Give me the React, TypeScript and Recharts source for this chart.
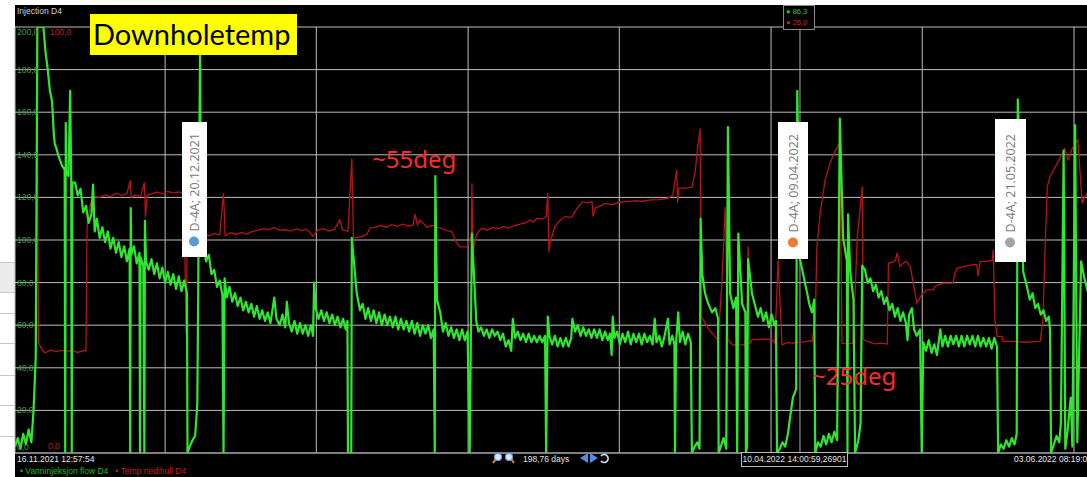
import React from "react";
import { ComposedChart, Line, XAxis, YAxis, CartesianGrid, ReferenceLine } from "recharts";

// ---- data (days since 16.11.2021 12:57:54) ----
const flowSeries: [number, number][] = [
  [0,3],[0.5,7],[1,2],[1.5,9],[2,4],[2.5,11],[3,5],[3.4,20],[3.8,45],[4.1,200],[4.6,200],[5.2,200],
  [5.6,188],[6.0,180],[6.4,170],[6.8,165],[7.1,150],[7.3,145],[7.6,143],[7.9,140],[8.3,137],[8.6,135],[9.1,133],[9.2,0],[9.3,155],[9.4,132],[9.8,130],[10.1,170],[10.3,128],[10.4,0],[10.5,127],
  [11.0,127],[11.5,121],[12.0,124],[12.5,113],[13.0,116],[13.5,108],[14.0,112],[14.3,126],[14.6,104],[15.0,110],[15.5,101],[16.0,106],[16.5,99],[17.0,104],[17.5,96],[18.0,101],[18.5,94],[19.0,99],[19.5,92],[20.0,97],[20.5,90],[21.0,96],[21.1,0],[21.2,115],[21.3,93],[21.8,97],[22.3,89],[22.8,94],[22.9,0],[23.0,92],[23.5,88],[23.7,0],[23.8,109],[24.0,90],[24.5,86],[25.0,91],[25.5,84],[26.0,89],[26.5,82],[27.0,87],[27.5,80],[28.0,85],[28.5,79],[29.0,84],[29.5,77],[30.0,83],[30.5,76],[31.0,81],[31.5,75],[31.6,0],
  [32.0,3],[32.5,6],[33.0,8],[33.4,23],[33.9,188],[34.1,101],[34.6,96],[35.0,90],[35.5,93],[36.0,84],[36.5,86],[37.0,78],[37.5,81],[38.0,74],[38.2,0],[38.4,82],[38.8,73],[39.3,78],[39.8,71],[40.3,75],[40.8,69],[41.3,73],[41.8,67],[42.3,71],[42.8,66],[43.3,70],[43.8,64],[44.3,69],[44.8,63],[45.3,67],[45.8,62],[46.3,66],[46.8,61],[47.5,73],[47.9,63],[48.5,60],[49.0,65],[49.5,59],[49.8,71],[50.2,61],[50.7,57],[51.2,62],[51.7,56],[52.2,61],[52.7,56],[53.2,60],[53.7,55],[54.2,60],[54.6,55],[54.8,80],[55.1,68],[55.6,63],[56.1,67],[56.6,62],[57.1,66],[57.6,61],[58.1,65],[58.6,60],[59.1,64],[59.6,59],[60.1,63],[60.6,58],[60.9,62],[61.0,0],[61.6,0],[61.7,101],
  [62.6,75],[63.2,67],[63.7,70],[64.2,63],[64.7,68],[65.2,62],[65.7,67],[66.2,61],[66.7,66],[67.2,60],[67.7,65],[68.2,60],[68.7,64],[69.2,59],[69.7,64],[70.2,58],[70.7,63],[71.2,58],[71.7,62],[72.2,57],[72.7,62],[73.2,56],[73.7,61],[74.2,55],[74.7,60],[75.2,56],[75.7,60],[76.2,54],[76.7,58],[76.9,0],[77.0,130],[77.3,72],[77.9,66],[78.4,57],[78.9,61],[79.4,55],[79.9,59],[80.4,54],[80.9,58],[81.4,53],[81.9,58],[82.4,53],[82.9,57],[83.3,0],[83.7,103],
  [84.5,62],[84.9,57],[85.4,59],[85.9,55],[86.4,58],[86.9,54],[87.4,58],[87.9,55],[88.4,57],[88.9,53],[89.4,56],[89.9,50],[90.4,53],[90.9,48],[91.2,63],[91.6,54],[92.1,57],[92.6,53],[93.1,56],[93.6,52],[94.1,56],[94.6,52],[95.1,55],[95.6,52],[96.1,55],[96.6,52],[97.1,55],[97.3,0],[97.6,64],[97.9,55],[98.4,51],[98.9,55],[99.4,50],[99.9,54],[100.4,50],[100.9,54],[101.4,50],[101.9,54],[102.1,63],[102.6,57],[103.1,60],[103.6,55],[104.1,59],[104.6,55],[105.1,58],[105.6,54],[106.1,58],[106.6,54],[107.1,58],[107.6,53],[108.1,57],[108.6,53],[109.0,56],[109.3,46],[109.5,64],[109.8,54],
  [110.3,57],[110.8,51],[111.3,56],[111.8,52],[112.3,57],[112.8,51],[113.3,56],[113.8,52],[114.3,56],[114.8,51],[115.3,56],[115.8,52],[116.3,55],[116.8,51],[117.2,63],[117.5,52],[118.0,55],[118.5,50],[119.0,55],[119.6,63],[119.9,51],[120.4,55],[120.8,51],[120.9,0],[121.1,52],[121.5,66],[121.8,52],[122.3,57],[122.8,51],[123.3,56],[123.8,52],[124.0,0],
  [124.5,3],[125.0,5],[125.4,2],[125.6,110],[125.9,84],[126.4,75],[127.0,70],[127.7,66],[128.3,68],[128.8,63],[128.9,0],[129.3,3],[129.8,7],[130.3,2],[130.6,153],[131.0,75],[131.6,68],[132.1,73],[132.3,0],[132.5,103],[133.2,70],[133.8,66],[133.9,0],[134.1,3],[134.3,91],[135.0,75],[135.5,70],[136.1,64],[136.6,68],[137.1,62],[137.6,66],[138.1,59],[138.6,65],[139.1,60],[139.4,62],[139.6,0],
  [140.1,2],[140.6,5],[141.1,3],[141.6,9],[142.0,17],[142.5,26],[143.1,30],[143.3,170],[143.8,91],[144.7,80],[145.2,74],[145.5,70],[146.0,66],[146.4,72],[146.6,0],[147.1,5],[147.6,3],[148.1,8],[148.6,4],[149.1,9],[149.6,5],[150.1,10],[150.6,6],[151.1,157],[151.7,101],[152.4,90],[152.5,0],[152.6,112],[153.0,85],[153.6,72],[153.9,0],[154.5,6],[154.9,14],
  [155.2,88],[155.7,86],[156.2,80],[156.7,82],[157.2,76],[157.7,79],[158.2,73],[158.7,76],[159.2,70],[159.7,73],[160.2,67],[160.7,70],[161.2,64],[161.7,68],[162.2,62],[162.7,66],[163.2,61],[163.5,53],[163.8,65],[164.3,68],[164.7,58],[165.2,55],[165.8,58],[166.1,0],[166.4,52],[166.9,48],[167.4,53],[167.9,47],[168.4,51],[168.9,46],[169.5,58],[169.9,50],
  [170.4,55],[170.9,50],[171.4,55],[171.9,51],[172.4,55],[172.9,50],[173.4,55],[173.9,50],[174.4,55],[174.9,51],[175.4,55],[175.9,50],[176.4,55],[176.9,50],[177.4,54],[177.9,50],[178.4,54],[178.9,49],[179.4,54],[179.9,50],[180.1,0],
  [180.6,4],[181.1,2],[181.6,6],[182.1,3],[182.6,7],[183.1,4],[183.5,9],[183.7,166],[184.7,85],[185.2,80],[185.9,72],[186.4,75],[186.9,68],[187.4,70],[187.9,65],[188.4,67],[188.9,62],[189.4,64],[189.6,58],[189.8,0],
  [190.3,4],[190.8,8],[191.3,5],[191.6,14],[192.1,142],[192.4,2],[192.8,10],[193.4,26],[193.7,3],[194.2,154],[194.6,5],[195.3,90],[195.9,82],[196.5,76],[197.3,72],[198.0,70],[198.7,68]
];

const tempSeries: [number, number][] = [
  [3.5,100],[4.0,100],[4.3,26],[4.8,24.5],[5.5,23.5],[6.5,24.2],[7.5,23.8],[8.5,24.1],[9.5,23.9],[10.5,24.0],[11.5,23.6],[12.5,24.0],[13.0,24.0],[13.2,53],[13.8,58.5],[14.5,60.2],[15.5,60.0],[16.5,60.6],[17.5,60.2],[18.5,61.0],[19.5,60.5],[20.5,60.8],[21.1,64.0],[21.3,60.0],[22.0,60.6],[23.0,60.3],[23.7,63.5],[23.9,55.4],[24.2,60.5],[25.0,60.8],[26.0,61.2],[27.0,60.9],[28.0,61.4],[29.0,61.0],[30.0,61.3],[31.0,60.8],[31.3,28.2],[31.6,52.5],
  [32.5,51.8],[33.5,51.2],[34.5,51.6],[35.5,51.0],[36.5,51.5],[37.5,51.2],[38.2,61.0],[38.5,51.0],[39.5,51.7],[40.5,51.3],[41.5,51.8],[42.5,51.4],[43.5,52.0],[44.5,52.3],[45.5,52.6],[46.5,52.5],[47.5,52.9],[48.5,52.3],[49.5,52.4],[50.5,52.1],[51.5,52.6],[52.5,52.2],[53.5,52.5],[54.6,50.9],[55.5,52.3],[56.5,52.6],[57.5,52.1],[58.5,52.5],[59.5,54.7],[60.0,52.4],[61.0,52.0],[61.7,69.2],[62.0,50.5],[63.2,50.7],[64.5,51.4],[65.0,52.8],
  [66.0,53.0],[67.0,53.4],[68.0,53.0],[69.0,53.6],[70.0,53.2],[71.0,53.7],[72.0,53.3],[72.9,53.5],[73.3,56.1],[73.7,53.6],[74.2,54.7],[75.5,53.0],[76.5,53.4],[77.3,53.0],[78.2,52.7],[79.1,52.2],[80.0,52.0],[80.8,49.5],[81.5,48.4],[82.8,48.4],[83.6,51.0],[83.7,63.3],[83.9,47.6],[84.6,51.5],[85.5,52.8],[86.5,52.3],[87.5,52.9],[88.5,52.6],[89.5,53.2],[90.5,52.8],[91.5,53.4],[92.5,53.7],[93.5,54.0],[94.3,54.7],[95.0,54.2],[95.6,55.1],[96.5,54.9],[97.3,55.5],[97.6,61.0],[97.8,47.1],
  [98.0,49.3],[98.9,53.2],[99.8,54.5],[100.8,55.5],[102.0,55.3],[102.6,56.7],[103.2,57.8],[103.9,59.0],[104.8,58.7],[105.7,59.0],[105.9,55.5],[106.3,57.5],[107.2,58.0],[108.1,58.6],[109.3,58.3],[110.5,58.8],[112.0,59.0],[113.5,59.2],[115.0,59.1],[116.5,59.4],[118.0,59.5],[119.6,59.8],[120.5,60.5],[121.2,66.5],[121.4,58.8],[121.6,62.2],[123.0,62.2],[124.0,62.4],[124.6,66.0],[125.0,71.0],[125.5,76.2],[125.7,32.0],[126.0,31.5],[127.0,29.2],[128.0,27.6],[128.8,26.6],[129.5,40.0],[130.1,57.8],[130.6,26.6],[131.4,25.4],[132.5,25.4],[133.7,25.4],[134.1,30.0],[134.3,48.5],[134.6,25.6],[135.0,26.6],[136.1,26.6],[137.4,26.8],[138.7,26.6],[139.2,25.8],[139.8,45.3],[140.5,25.4],[141.5,25.9],[142.5,25.8],[143.5,26.0],[144.5,26.1],[145.5,26.3],[146.0,26.2],
  [146.6,31.3],[146.9,48.5],[147.5,56.3],[148.4,64.1],[149.3,68.0],[150.2,70.8],[151.1,72.7],[151.5,25.8],[152.5,25.6],[153.5,25.8],[153.9,38.0],[154.3,50.8],[155.2,62.5],[155.4,26.6],[156.5,26.0],[157.5,25.6],[158.5,25.8],[159.8,25.6],[160.0,44.6],[160.8,44.8],[161.3,45.3],[161.6,47.0],[162.1,43.8],[162.7,44.6],[163.3,45.0],[164.0,43.8],[164.6,39.5],[165.2,35.2],[166.3,37.5],[167.0,38.3],[168.2,38.3],[168.5,39.1],[170.0,39.9],[171.8,39.9],[172.2,42.2],[172.6,43.4],[174.0,43.8],[175.5,44.2],[176.2,44.2],[176.4,41.5],[176.8,45.0],[178.0,45.0],[179.0,45.2],[179.2,47.7],[179.5,31.3],[179.9,27.4],[180.8,27.4],[181.0,26.2],[183.0,26.2],[185.0,26.0],[187.8,26.2],[188.3,31.3],[188.7,48.0],[189.1,62.5],[189.6,64.9],[190.9,68.0],[192.3,71.5],[192.9,68.8],[193.8,71.9],[194.7,73.5],[195.5,58.6],[196.0,60.2],[197.0,62.0],[198.0,63.5],[198.7,64.0]
];

const flowTicks = [0, 20, 40, 60, 80, 100, 120, 140, 160, 180, 200];
const tempTicks = [0, 100];
const spanDays = 198.76;
const gridDays = [0, 27.5, 55.2, 83.0, 110.7, 138.5, 166.2, 194.0, spanDays];
const startLabel = "16.11.2021 12:57:54";
const endLabel = "03.06.2022 08:19:09";
const spanLabel = "198,76 days";
const cursorDay = 143.8;
const cursorLabel = "10.04.2022 14:00:59,26901";
const cursorFlow = "86,3";
const cursorTemp = "26,0";
const seriesNames = ["Vanninjeksjon flow D4", "Temp nedihull D4"];
const chartTitle = "Injection D4";
const events = [
  { label: "D-4A; 20.12.2021", color: "#5b9bd5" },
  { label: "D-4A; 09.04.2022", color: "#ed7d31" },
  { label: "D-4A; 21.05.2022", color: "#a5a5a5" },
];
const notes = ["Downholetemp", "~55deg", "~25deg"];

const flowData = flowSeries.map(([d, v]) => ({ d, v }));
const tempData = tempSeries.map(([d, v]) => ({ d, v }));

const GREEN = "#2ee82e";
const RED = "#b3141a";
const UI_FONT = "'Liberation Sans', Arial, sans-serif";
const fmt = (v: number) => v.toFixed(1).replace(".", ",");

const FlowTick = (props: any) => {
  const { y, payload } = props;
  const dy = payload.value === 200 ? 8 : payload.value === 0 ? -3 : 3;
  return (
    <text x={17} y={Number(y) + dy} fill="#3f9e3f" fontSize={8.5} fontFamily={UI_FONT}>
      {fmt(payload.value)}
    </text>
  );
};
const TempTick = (props: any) => {
  const { y, payload } = props;
  const dy = payload.value === 100 ? 8 : -4;
  const x = payload.value === 100 ? 50 : 48;
  return (
    <text x={x} y={Number(y) + dy} fill="#b82020" fontSize={8.5} fontFamily={UI_FONT}>
      {fmt(payload.value)}
    </text>
  );
};
const XTick = (props: any) => {
  const { x, payload } = props;
  if (payload.value === 0)
    return (
      <text x={x + 2} y={462} fill="#e6e6e6" fontSize={8.5} fontFamily={UI_FONT} textAnchor="start">
        {startLabel}
      </text>
    );
  if (payload.value === spanDays)
    return (
      <text x={x - 8} y={462} fill="#e6e6e6" fontSize={8.5} fontFamily={UI_FONT} textAnchor="end">
        {endLabel}
      </text>
    );
  return <g />;
};

const EventLabel = ({ left, top, w, h, label, color }: any) => (
  <div
    style={{
      position: "absolute", left, top, width: w, height: h, background: "#fff",
      display: "flex", alignItems: "center", justifyContent: "center",
    }}
  >
    <div
      style={{
        writingMode: "vertical-rl", transform: "rotate(180deg)", display: "flex",
        alignItems: "center", gap: 5, fontSize: 12.5, color: "#7a7a7a",
        fontFamily: "'Open Sans', sans-serif", whiteSpace: "nowrap",
      }}
    >
      <span style={{ width: 10, height: 10, borderRadius: 5, background: color, display: "inline-block" }} />
      <span>{label}</span>
    </div>
  </div>
);

export default function App() {
  const tableLines = [262, 292, 313, 343, 375, 405, 436];
  return (
    <div style={{ position: "fixed", left: 0, top: 0, width: 1087, height: 477, overflow: "hidden", background: "#fff" }}>
      {/* background table stub on the left */}
      <div style={{ position: "absolute", left: 0, top: 262, width: 15, height: 30, background: "#ececec" }} />
      {tableLines.map((t) => (
        <div key={t} style={{ position: "absolute", left: 0, top: t, width: 15, height: 1, background: "#c8c8c8" }} />
      ))}
      {/* black panel */}
      <div style={{ position: "absolute", left: 15, top: 5, right: 0, bottom: 0, background: "#000" }} />
      <div style={{ position: "absolute", left: 17, top: 6, fontSize: 8.5, color: "#d0d0d0", fontFamily: UI_FONT }}>
        {chartTitle}
      </div>

      <div style={{ position: "absolute", left: 0, top: 0 }}>
        <ComposedChart width={1110} height={477} margin={{ top: 27, right: 10, bottom: 0, left: 13 }}>
          <CartesianGrid yAxisId="flow" stroke="#bdbdbd" strokeWidth={1} />
          <XAxis
            type="number" dataKey="d" domain={[0, spanDays]} ticks={gridDays} interval={0}
            allowDataOverflow height={24} tickLine={false} axisLine={{ stroke: "#a0a0a0" }} tick={XTick}
          />
          <YAxis
            yAxisId="flow" domain={[0, 200]} ticks={flowTicks} interval={0} width={1}
            allowDataOverflow axisLine={false} tickLine={false} tick={<FlowTick />}
          />
          <YAxis
            yAxisId="temp" domain={[0, 100]} ticks={tempTicks} interval={0} width={1}
            allowDataOverflow axisLine={false} tickLine={false} tick={<TempTick />}
          />
          <ReferenceLine yAxisId="flow" x={cursorDay} stroke="#a8a8a8" strokeWidth={1} />
          <Line yAxisId="temp" data={tempData} dataKey="v" type="linear" stroke={RED} strokeWidth={1.3} dot={false} isAnimationActive={false} />
          <Line yAxisId="flow" data={flowData} dataKey="v" type="linear" stroke={GREEN} strokeWidth={2.2} strokeLinejoin="round" dot={false} isAnimationActive={false} />
        </ComposedChart>
      </div>

      {/* cursor readout */}
      <div style={{ position: "absolute", left: 783, top: 5, width: 32, height: 25, background: "#000", border: "1px solid #8a8a8a", fontFamily: UI_FONT, fontSize: 7.5, lineHeight: "11px", paddingLeft: 2, boxSizing: "border-box" }}>
        <div style={{ color: "#25c825" }}>● {cursorFlow}</div>
        <div style={{ color: "#c82020" }}>● {cursorTemp}</div>
      </div>
      <div style={{ position: "absolute", left: 741, top: 452, width: 107, height: 15, background: "#000", border: "1px solid #bbb", boxSizing: "border-box", color: "#e0e0e0", fontFamily: UI_FONT, fontSize: 8.5, lineHeight: "13px", textAlign: "center", whiteSpace: "nowrap", overflow: "hidden" }}>
        {cursorLabel}
      </div>

      {/* zoom controls */}
      <svg style={{ position: "absolute", left: 490, top: 451 }} width={125} height={16}>
        <circle cx={8} cy={6} r={3.5} fill="#d8e8ff" stroke="#6a9fe0" strokeWidth={1.2} />
        <line x1={5.5} y1={8.5} x2={3} y2={12} stroke="#e08a20" strokeWidth={2} />
        <circle cx={19} cy={6} r={3.5} fill="#d8e8ff" stroke="#6a9fe0" strokeWidth={1.2} />
        <line x1={21.5} y1={8.5} x2={24} y2={12} stroke="#e08a20" strokeWidth={2} />
        <text x={33} y={11} fill="#e0e0e0" fontSize={8.5} fontFamily={UI_FONT}>{spanLabel}</text>
        <polygon points="90,7 98,2 98,12" fill="#4d8fe0" />
        <polygon points="108,7 100,2 100,12" fill="#4d8fe0" />
        <path d="M111 5 A4 4 0 1 1 111 10" fill="none" stroke="#cfe0ff" strokeWidth={1.6} />
      </svg>

      {/* legend */}
      <div style={{ position: "absolute", left: 20, top: 466, fontFamily: UI_FONT, fontSize: 8.5, whiteSpace: "nowrap" }}>
        <span style={{ color: "#22b822" }}>• {seriesNames[0]}</span>
        <span style={{ color: "#c81e1e", marginLeft: 7 }}>• {seriesNames[1]}</span>
      </div>

      {/* annotations */}
      <div style={{ position: "absolute", left: 90, top: 14, width: 207, height: 41, background: "#ffff00" }}>
        <div style={{ position: "absolute", left: 3, top: 5, fontSize: 29, lineHeight: 1, fontFamily: "Lato, sans-serif", color: "#000", whiteSpace: "nowrap" }}>
          {notes[0]}
        </div>
      </div>
      <div style={{ position: "absolute", left: 372, top: 147, fontSize: 24, lineHeight: 1, fontFamily: "'Noto Sans', sans-serif", color: "#ff2a2a", whiteSpace: "nowrap" }}>
        {notes[1]}
      </div>
      <div style={{ position: "absolute", left: 812, top: 364, fontSize: 24, lineHeight: 1, fontFamily: "'Noto Sans', sans-serif", color: "#ff2a2a", whiteSpace: "nowrap" }}>
        {notes[2]}
      </div>

      <EventLabel left={182} top={122} w={25} h={135} label={events[0].label} color={events[0].color} />
      <EventLabel left={778} top={122} w={30} h={137} label={events[1].label} color={events[1].color} />
      <EventLabel left={995} top={119} w={31} h={143} label={events[2].label} color={events[2].color} />
    </div>
  );
}
